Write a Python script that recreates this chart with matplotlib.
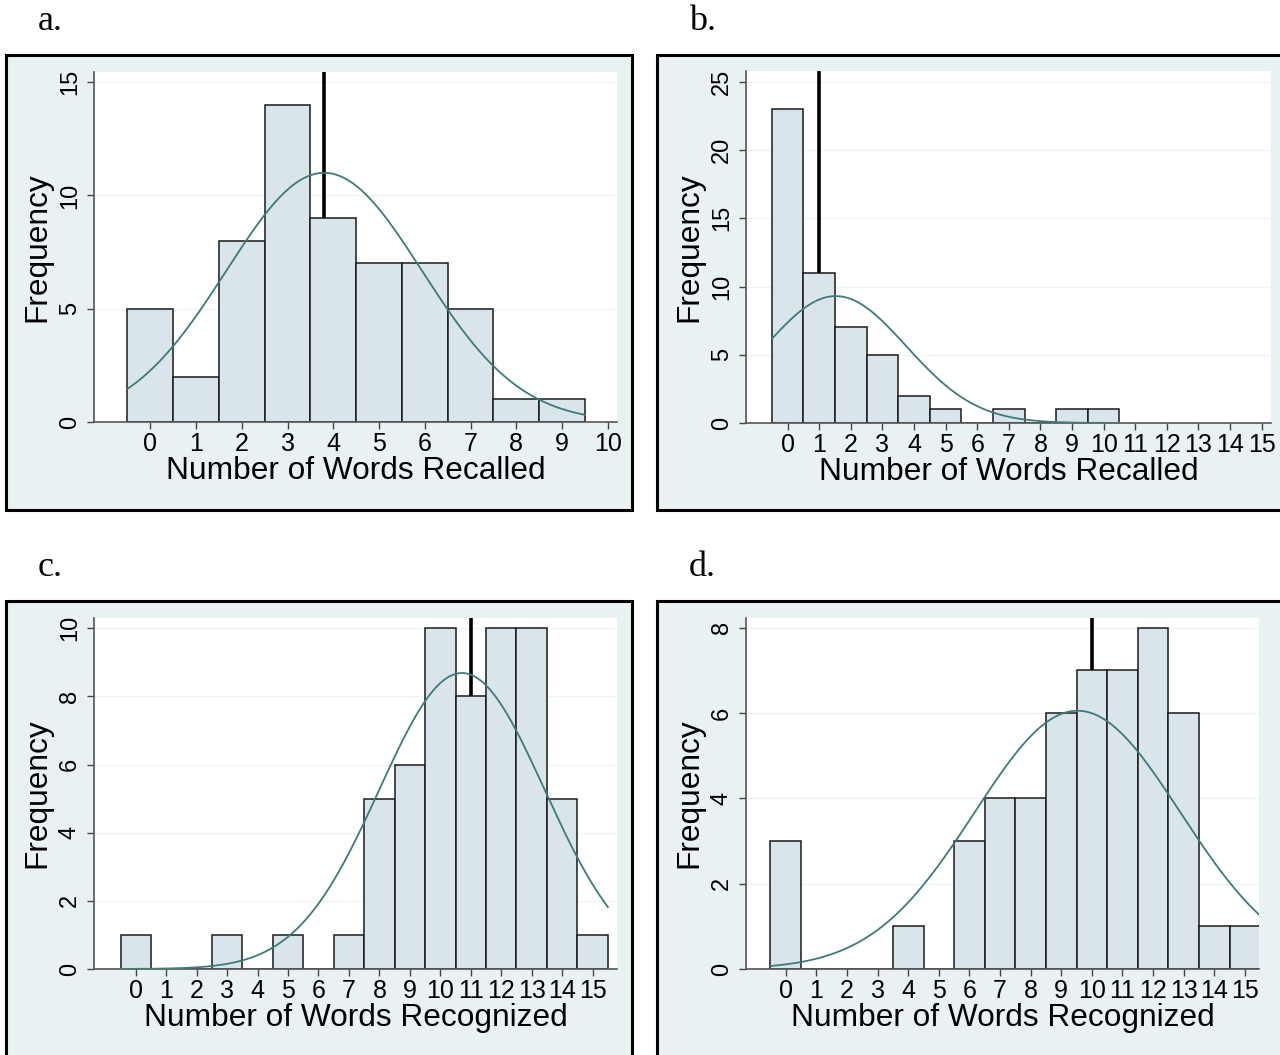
import numpy as np
import matplotlib
matplotlib.use("Agg")
import matplotlib.pyplot as plt
from matplotlib.patches import Rectangle

# panel data: counts per integer bin, starting at 0
recall_a = [5, 2, 8, 14, 9, 7, 7, 5, 1, 1]
recall_b = [23, 11, 7, 5, 2, 1, 0, 1, 0, 1, 1]
recog_c = [1, 0, 0, 1, 0, 1, 0, 1, 5, 6, 10, 8, 10, 10, 5, 1]
recog_d = [3, 0, 0, 0, 1, 0, 3, 4, 4, 6, 7, 7, 8, 6, 1, 1]

# normal overlay (mean, sd) and marker line position
norm_a, mark_a = (3.8, 2.14), 3.8
norm_b, mark_b = (1.52, 2.23), 1.0
norm_c, mark_c = (10.71, 2.71), 11.0
norm_d, mark_d = (9.53, 3.36), 10.0

xticks_a = list(range(0, 11))
xticks_b = list(range(0, 16))
yticks_a = [0, 5, 10, 15]
yticks_b = [0, 5, 10, 15, 20, 25]
yticks_c = [0, 2, 4, 6, 8, 10]
yticks_d = [0, 2, 4, 6, 8]

W, H = 1280, 1055
BG = "#eaf1f3"
BAR = "#d9e5ea"
CURVE = "#3e7b78"
SANS = ["Liberation Sans", "DejaVu Sans"]
SERIF = ["Liberation Serif", "DejaVu Serif"]

fig = plt.figure(figsize=(W / 100, H / 100), dpi=100)
fig.patch.set_facecolor("white")


def px_rect(x0, y0, x1, y1):
    return [x0 / W, 1 - y1 / H, (x1 - x0) / W, (y1 - y0) / H]


def panel(letter, box, area, counts, norm, mark, xticks, yticks, xlim, ylim, xlabel):
    bx0, by0, bx1, by1 = box
    fig.add_artist(Rectangle((bx0 / W, 1 - by1 / H), (bx1 - bx0) / W, (by1 - by0) / H,
                             transform=fig.transFigure, facecolor=BG,
                             edgecolor="black", linewidth=2.2, zorder=0))
    fig.text((bx0 + 32) / W, 1 - (by0 - 33) / H, letter,
             family=SERIF, fontsize=26, va="center", ha="left")

    ax = fig.add_axes(px_rect(*area))
    ax.set_facecolor("white")
    x = np.arange(len(counts))
    ax.axvline(mark, color="black", linewidth=2.6, zorder=1)
    ax.bar(x, counts, width=1.0, color=BAR, edgecolor="#1a1a1a", linewidth=1.1, zorder=2)

    mu, sd = norm
    xs = np.linspace(-0.5, len(counts) - 0.5, 300)
    n = sum(counts)
    ys = n / (sd * np.sqrt(2 * np.pi)) * np.exp(-0.5 * ((xs - mu) / sd) ** 2)
    ax.plot(xs, ys, color=CURVE, linewidth=1.3, zorder=3)

    ax.set_xlim(*xlim)
    ax.set_ylim(*ylim)
    ax.set_xticks(xticks)
    ax.set_yticks(yticks)
    for t in yticks:
        ax.axhline(t, color="#eef3f4", linewidth=1.0, zorder=0.5)
    ax.set_xticklabels([str(t) for t in xticks], family=SANS, fontsize=18)
    ax.set_yticklabels([str(t) for t in yticks], family=SANS, fontsize=17,
                       rotation=90, va="center")
    ax.tick_params(axis="both", colors="#444444", labelcolor="black", length=5, width=1.0)
    ax.tick_params(axis="x", pad=2.5)
    ax.tick_params(axis="y", pad=4.5)
    for s in ["top", "right"]:
        ax.spines[s].set_visible(False)
    for s in ["left", "bottom"]:
        ax.spines[s].set_color("#555555")
        ax.spines[s].set_linewidth(1.2)
    ax.set_xlabel(xlabel, family=SANS, fontsize=22.8, labelpad=0)
    ax.set_ylabel("Frequency", family=SANS, fontsize=22.8, va="center")
    w = area[2] - area[0]
    ax.yaxis.set_label_coords(-57 / w, 0.5)


panel("a.", (6, 55, 632, 510), (94, 72, 617, 422), recall_a, norm_a, mark_a,
      xticks_a, yticks_a, (-1.23, 10.2), (0, 15.45), "Number of Words Recalled")
panel("b.", (657, 55, 1295, 510), (746, 71, 1271, 423), recall_b, norm_b, mark_b,
      xticks_b, yticks_b, (-1.32, 15.3), (0, 25.8), "Number of Words Recalled")
panel("c.", (6, 601, 632, 1070), (94, 618, 617, 969), recog_c, norm_c, mark_c,
      xticks_b, yticks_c, (-1.37, 15.8), (0, 10.3), "Number of Words Recognized")
panel("d.", (657, 601, 1295, 1070), (746, 618, 1259, 969), recog_d, norm_d, mark_d,
      xticks_b, yticks_d, (-1.3, 15.46), (0, 8.23), "Number of Words Recognized")

fig.savefig("out.png", dpi=100, facecolor="white")
